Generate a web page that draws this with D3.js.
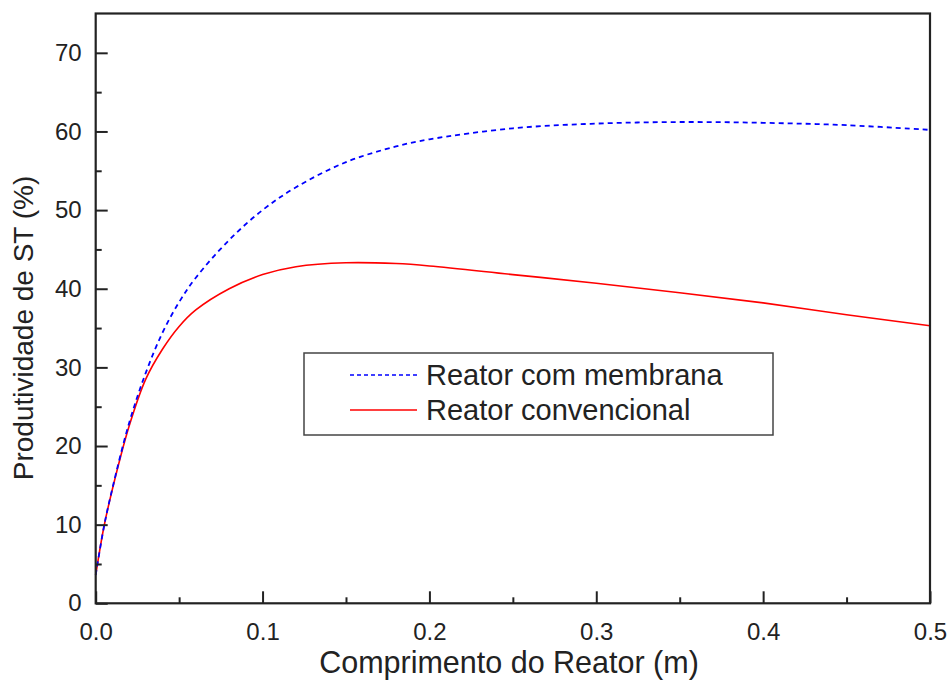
<!DOCTYPE html>
<html lang="pt">

<head>
  <meta charset="UTF-8" />
  <title>Produtividade de ST</title>
  <script src="https://d3js.org/d3.v7.min.js"></script>
  <style>
    body { margin: 0; background: #fff; }
    text { font-family: "Liberation Sans", Arial, sans-serif; fill: #222; }
  </style>
</head>

<body>
  <svg width="948" height="681"></svg>

  <script>
    // comprimento do reator (m)
    const comprimento = [0, 0.005, 0.01, 0.02, 0.03, 0.04, 0.05, 0.06, 0.08, 0.1,
      0.12, 0.15, 0.18, 0.2, 0.25, 0.3, 0.35, 0.4, 0.45, 0.5];
    // produtividade (%)
    const membrana = [3.6, 9.8, 14.6, 22.9, 29.3, 34.4, 38.3, 41.4, 46.2, 50.0,
      52.9, 56.1, 58.1, 59.0, 60.4, 61.0, 61.2, 61.1, 60.8, 60.2];
    const convencional = [3.6, 9.8, 14.5, 22.5, 28.5, 32.3, 35.2, 37.3, 40.0, 41.8,
      42.8, 43.3, 43.2, 42.9, 41.8, 40.7, 39.5, 38.2, 36.7, 35.3];
    const xTicks = [0, 0.1, 0.2, 0.3, 0.4, 0.5];
    const yTicks = [0, 10, 20, 30, 40, 50, 60, 70];
    const legendLabels = ["Reator com membrana", "Reator convencional"];

    const svg = d3.select("svg");
    const pLeft = 95.7, pRight = 930, pTop = 13.5, pBottom = 603.3;

    const x = d3.scaleLinear().domain([0, 0.5]).range([pLeft, pRight]);
    const y = d3.scaleLinear().domain([0, 75]).range([pBottom, pTop]);

    // curvas
    const line = d3.line()
      .x((d, i) => x(comprimento[i]))
      .y(d => y(d))
      .curve(d3.curveCatmullRom.alpha(0.5));

    svg.append("path")
      .attr("d", line(convencional))
      .attr("fill", "none")
      .attr("stroke", "#ff0000")
      .attr("stroke-width", 1.6);

    svg.append("path")
      .attr("d", line(membrana))
      .attr("fill", "none")
      .attr("stroke", "#0000ff")
      .attr("stroke-width", 1.8)
      .attr("stroke-dasharray", "5,4");

    // eixos com ticks para dentro
    const xAxis = d3.axisBottom(x).tickValues(xTicks).tickSize(-12)
      .tickFormat(d3.format(".1f")).tickPadding(20);
    const gx = svg.append("g").attr("transform", `translate(0,${pBottom})`).call(xAxis);
    gx.selectAll(".tick line").attr("stroke", "#222").attr("stroke-width", 2);
    gx.selectAll("text").attr("font-size", 24).attr("fill", "#222");
    gx.select(".domain").remove();

    const xMinor = d3.axisBottom(x).tickValues([0.05, 0.15, 0.25, 0.35, 0.45])
      .tickSize(-6).tickFormat("");
    const gxm = svg.append("g").attr("transform", `translate(0,${pBottom})`).call(xMinor);
    gxm.selectAll(".tick line").attr("stroke", "#222").attr("stroke-width", 2);
    gxm.select(".domain").remove();

    const yAxis = d3.axisLeft(y).tickValues(yTicks).tickSize(-12).tickPadding(14);
    const gy = svg.append("g").attr("transform", `translate(${pLeft},0)`).call(yAxis);
    gy.selectAll(".tick line").attr("stroke", "#222").attr("stroke-width", 2);
    gy.selectAll("text").attr("font-size", 24).attr("fill", "#222");
    gy.select(".domain").remove();

    const yMinor = d3.axisLeft(y).tickValues([5, 15, 25, 35, 45, 55, 65])
      .tickSize(-6).tickFormat("");
    const gym = svg.append("g").attr("transform", `translate(${pLeft},0)`).call(yMinor);
    gym.selectAll(".tick line").attr("stroke", "#222").attr("stroke-width", 2);
    gym.select(".domain").remove();

    // moldura
    svg.append("rect")
      .attr("x", pLeft).attr("y", pTop)
      .attr("width", pRight - pLeft).attr("height", pBottom - pTop)
      .attr("fill", "none").attr("stroke", "#222").attr("stroke-width", 2.2);

    // títulos
    svg.append("text")
      .attr("x", 509).attr("y", 673)
      .attr("text-anchor", "middle").attr("font-size", 30.5)
      .text("Comprimento do Reator (m)");

    svg.append("text")
      .attr("transform", "translate(33,328) rotate(-90)")
      .attr("text-anchor", "middle").attr("font-size", 28)
      .text("Produtividade de ST (%)");

    // legenda
    const leg = svg.append("g");
    leg.append("rect")
      .attr("x", 304).attr("y", 353).attr("width", 469).attr("height", 82)
      .attr("fill", "#fff").attr("stroke", "#444").attr("stroke-width", 1.5);

    const legStyles = [
      { color: "#0000ff", dash: "4,3" },
      { color: "#ff0000", dash: null }
    ];
    legendLabels.forEach((lab, i) => {
      const yy = 375 + i * 35;
      leg.append("line")
        .attr("x1", 350).attr("x2", 417).attr("y1", yy).attr("y2", yy)
        .attr("stroke", legStyles[i].color).attr("stroke-width", 1.5)
        .attr("stroke-dasharray", legStyles[i].dash);
      leg.append("text")
        .attr("x", 426).attr("y", yy + 10)
        .attr("font-size", 29)
        .text(lab);
    });
  </script>
</body>

</html>
